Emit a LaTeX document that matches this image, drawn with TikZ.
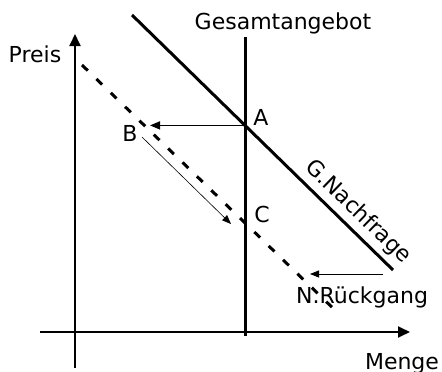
\documentclass[tikz,border=0pt]{standalone}
\usepackage{fontspec}
\setmainfont{DejaVu Sans}
\usetikzlibrary{arrows.meta}

\begin{document}
\begin{tikzpicture}[
  x=1pt, y=-1pt,
  axis/.style={-{Triangle[length=12pt,width=11pt]}, line width=1.8pt},
  curve/.style={line width=3pt},
  shifted/.style={line width=3pt, dash pattern=on 8pt off 12pt},
  move/.style={-{Triangle[length=10pt,width=8pt]}, line width=1.4pt},
  thinmove/.style={-{Triangle[length=9pt,width=7pt]}, line width=0.6pt},
  lbl/.style={font=\fontsize{22}{26}\selectfont, inner sep=0pt, anchor=base},
]
\useasboundingbox (0,0) rectangle (442,372);

% Axes
\coordinate (ybot) at (75,368);
\coordinate (ytop) at (75,34);
\coordinate (xleft) at (40,332);
\coordinate (xright) at (410,332);
\draw[axis] (ybot) -- (ytop);
\draw[axis] (xleft) -- (xright);
\node[lbl] (preis) at (35,62) {Preis};
\node[lbl] (menge) at (402,369) {Menge};

% Gesamtangebot
\coordinate (stop) at (245,37);
\coordinate (sbot) at (245,336);
\draw[curve] (stop) -- (sbot);
\node[lbl] (angebot) at (283,29) {Gesamtangebot};

% Nachfrage (alt und neu)
\coordinate (dtop) at (132,15);
\coordinate (dbot) at (393,270);
\draw[curve] (dtop) -- (dbot);
\node[lbl, anchor=center, rotate=-44] (gnach) at (358,212) {G.Nachfrage};

\coordinate (ntop) at (82,65);
\coordinate (nbot) at (340,315);
\draw[shifted] (ntop) -- (nbot);

% Punkte
\coordinate (pA) at (intersection of dtop--dbot and stop--sbot);
\node[lbl] (A) at (261,125) {A};
\node[lbl] (B) at (130,141) {B};
\node[lbl] (C) at (262,222) {C};
\node[lbl] (rueck) at (362,303) {N.Rückgang};

% Bewegungen
\coordinate (bend) at (150,0);
\coordinate (bstart) at (142,137);
\coordinate (cend) at (231,224);
\coordinate (rstart) at (383,274);
\coordinate (rend) at (310,274);
\draw[move] (pA) -- (pA -| bend);
\draw[thinmove] (bstart) -- (cend);
\draw[thinmove, line width=0.8pt] (rstart) -- (rend);
\end{tikzpicture}
\end{document}
